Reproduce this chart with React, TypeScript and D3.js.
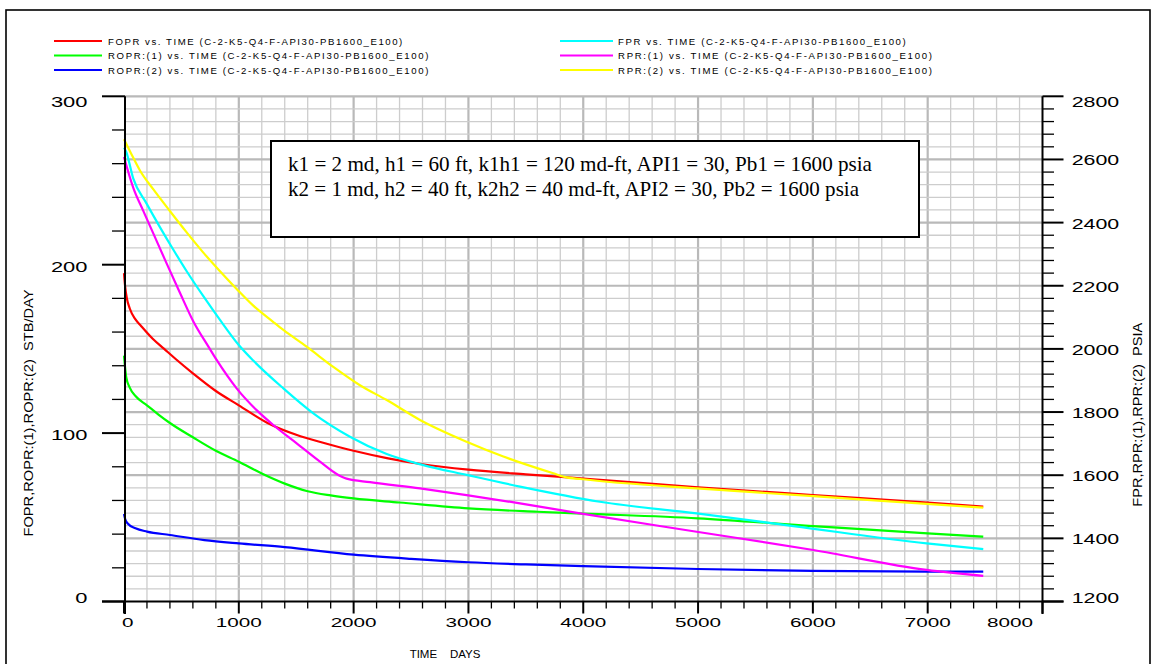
import React from "react";
import * as d3 from "d3";

// ---------- data ----------
const foprDays = [0, 10, 25, 50, 100, 150, 250, 350, 450, 600, 800, 1000, 1250, 1500, 1750, 2000, 2300, 2600, 3000, 3500, 4000, 5000, 6000, 7000, 7484];
const foprRate = [195, 187, 180, 174, 167.5, 163.5, 156, 150, 144, 135.5, 125, 116.5, 106, 99, 94, 89.5, 85, 81.5, 78.3, 75.5, 73, 67.8, 63.2, 58.7, 56.3];

const ropr1Days = [0, 8, 20, 50, 100, 200, 300, 400, 600, 800, 1000, 1200, 1400, 1600, 1800, 2000, 2400, 3000, 3600, 4000, 5000, 6000, 7000, 7484];
const ropr1Rate = [146, 140, 133, 127, 122, 116.5, 111, 106, 97.5, 89.5, 83, 76, 70, 65.5, 63, 61.2, 58.8, 55.3, 53.3, 52.2, 49.4, 44.8, 40.4, 38.5];

const ropr2Days = [0, 10, 30, 100, 200, 400, 700, 1000, 1400, 2000, 2500, 3000, 3500, 4000, 5000, 6000, 7000, 7484];
const ropr2Rate = [52, 49, 46.5, 43.5, 41.5, 39.5, 36.5, 34.5, 32.3, 27.8, 25.3, 23.3, 22, 21, 19.3, 18.2, 17.7, 17.7];

const fprDays = [0, 17, 81, 197, 314, 430, 546, 691, 836, 996, 1126, 1388, 1649, 1968, 2288, 2607, 2984, 3449, 4145, 4988, 5830, 6991, 7484];
const fprPsia = [2637, 2626, 2539, 2460, 2385, 2314, 2246, 2167, 2092, 2014, 1963, 1875, 1796, 1722, 1667, 1632, 1601, 1564, 1516, 1479, 1439, 1384, 1366];

const rpr1Days = [0, 81, 168, 256, 372, 488, 604, 734, 807, 981, 1155, 1300, 1504, 1707, 1852, 1939, 2143, 2578, 2984, 3449, 3972, 4988, 6004, 6991, 7484];
const rpr1Psia = [2608, 2510, 2437, 2365, 2270, 2177, 2087, 2008, 1965, 1875, 1806, 1759, 1701, 1643, 1604, 1589, 1578, 1558, 1537, 1511, 1479, 1421, 1363, 1300, 1281];

const rpr2Days = [0, 81, 139, 256, 401, 546, 691, 836, 981, 1126, 1301, 1388, 1591, 1823, 2055, 2288, 2578, 2984, 3304, 3739, 3855, 3972, 4988, 6004, 6991, 7484];
const rpr2Psia = [2664, 2605, 2565, 2505, 2436, 2369, 2305, 2246, 2190, 2137, 2085, 2060, 2007, 1943, 1885, 1838, 1775, 1706, 1659, 1606, 1593, 1588, 1558, 1534, 1509, 1497];

const leftTickValues = [0, 100, 200, 300];
const rightTickValues = [1200, 1400, 1600, 1800, 2000, 2200, 2400, 2600, 2800];
const xTickValues = [0, 1000, 2000, 3000, 4000, 5000, 6000, 7000, 8000];

const legendLeft = [
  "FOPR vs. TIME (C-2-K5-Q4-F-API30-PB1600_E100)",
  "ROPR:(1) vs. TIME (C-2-K5-Q4-F-API30-PB1600_E100)",
  "ROPR:(2) vs. TIME (C-2-K5-Q4-F-API30-PB1600_E100)",
];
const legendRight = [
  "FPR vs. TIME (C-2-K5-Q4-F-API30-PB1600_E100)",
  "RPR:(1) vs. TIME (C-2-K5-Q4-F-API30-PB1600_E100)",
  "RPR:(2) vs. TIME (C-2-K5-Q4-F-API30-PB1600_E100)",
];
const boxLines = [
  "k1 = 2 md, h1 = 60 ft, k1h1 = 120 md-ft, API1 = 30, Pb1 = 1600 psia",
  "k2 = 1 md, h2 = 40 ft, k2h2 = 40 md-ft, API2 = 30, Pb2 = 1600 psia",
];
const boxLineWidths = [584, 571];
const leftAxisTitle = "FOPR,ROPR:(1),ROPR:(2)  STB/DAY";
const rightAxisTitle = "FPR,RPR:(1),RPR:(2)  PSIA";
const xAxisTitle = "TIME    DAYS";

// ---------- layout ----------
const W = 1156;
const H = 664;
const X0 = 124;
const X1 = 1042.5;
const YB = 601.5;
const YT = 96.3;
const AXL = 125;
const AXR = 1042.5;

const x = d3.scaleLinear().domain([0, 8000]).range([X0, X1]);
const yL = d3.scaleLinear().domain([0, 300]).range([YB, YT]);
const yR = d3.scaleLinear().domain([1200, 2800]).range([YB, YT]);

const SANS = "'Liberation Sans', Arial, sans-serif";
const SERIF = "'Liberation Serif', 'Times New Roman', serif";

function mk(days: number[], vals: number[]) {
  return days.map((d, i) => [d, vals[i]] as [number, number]);
}

const series = [
  { pts: mk(foprDays, foprRate), y: yL, color: "#ff0000" },
  { pts: mk(ropr1Days, ropr1Rate), y: yL, color: "#00ff00" },
  { pts: mk(ropr2Days, ropr2Rate), y: yL, color: "#0000ff" },
  { pts: mk(fprDays, fprPsia), y: yR, color: "#00ffff" },
  { pts: mk(rpr1Days, rpr1Psia), y: yR, color: "#ff00ff" },
  { pts: mk(rpr2Days, rpr2Psia), y: yR, color: "#ffff00" },
];
const legendColorsLeft = ["#ff0000", "#00ff00", "#0000ff"];
const legendColorsRight = ["#00ffff", "#ff00ff", "#ffff00"];

export default function App() {
  const vGrid = d3.range(200, 8000, 200);
  const hGrid = d3.range(1240, 2801, 40);
  const leftMinor = d3.range(0, 301, 20);
  const rightMinor = d3.range(1200, 2801, 40);
  const xMinor = d3.range(0, 8001, 200);

  const clampY = (c: number) => Math.max(102, Math.min(597.6, c));
  const pre = { whiteSpace: "pre" as const };

  return (
    <svg width={W} height={H} style={{ position: "absolute", left: 0, top: 0, background: "#fff" }}>
      <rect x={0} y={0} width={W} height={H} fill="#fff" />
      <rect x={6} y={10} width={1144} height={700} fill="none" stroke="#000" strokeWidth={1.6} />

      {/* grid */}
      {vGrid.map((t) => (
        <line
          key={"vg" + t}
          x1={x(t)}
          x2={x(t)}
          y1={YT}
          y2={YB}
          stroke={t % 1000 === 0 ? "#b9b9b9" : "#cdcdcd"}
          strokeWidth={t % 1000 === 0 ? 2.2 : 1.3}
        />
      ))}
      {hGrid.map((p) => (
        <line
          key={"hg" + p}
          x1={AXL}
          x2={AXR}
          y1={yR(p)}
          y2={yR(p)}
          stroke={p % 200 === 0 ? "#b9b9b9" : "#cdcdcd"}
          strokeWidth={p % 200 === 0 ? 2.2 : 1.3}
        />
      ))}

      {/* text box */}
      <rect x={271} y={141} width={648} height={96} fill="#fff" stroke="#000" strokeWidth={2} />
      {boxLines.map((s, i) => (
        <text
          key={"bl" + i}
          x={288}
          y={171 + i * 25}
          fontFamily={SERIF}
          fontSize={21}
          textLength={boxLineWidths[i]}
          lengthAdjust="spacingAndGlyphs"
          fill="#000"
        >
          {s}
        </text>
      ))}

      {/* curves */}
      <g>
        {series.map((s, i) => {
          const line = d3
            .line<[number, number]>()
            .x((d) => x(d[0]))
            .y((d) => s.y(d[1]))
            .curve(d3.curveMonotoneX);
          return <path key={"s" + i} d={line(s.pts) || ""} fill="none" stroke={s.color} strokeWidth={2.2} />;
        })}
      </g>

      {/* axis lines */}
      <line x1={AXL} x2={AXL} y1={YT} y2={614} stroke="#000" strokeWidth={2} />
      <line x1={AXR} x2={AXR} y1={YT} y2={614} stroke="#000" strokeWidth={2} />
      <line x1={102} x2={1063.5} y1={YB} y2={YB} stroke="#000" strokeWidth={2} />

      {/* left ticks */}
      {leftMinor.map((v) => (
        <line
          key={"lt" + v}
          x1={v % 100 === 0 ? 102 : 112}
          x2={AXL}
          y1={yL(v)}
          y2={yL(v)}
          stroke="#000"
          strokeWidth={v % 100 === 0 ? 2 : 1.3}
        />
      ))}
      {leftTickValues.map((v) => (
        <text
          key={"ll" + v}
          x={87.5}
          y={clampY(yL(v) + 2) + 5}
          textAnchor="end"
          fontFamily={SANS}
          fontSize={14}
          textLength={String(v).length * 12.2}
          lengthAdjust="spacingAndGlyphs"
          fill="#000"
        >
          {v}
        </text>
      ))}

      {/* right ticks */}
      {rightMinor.map((p) => (
        <line
          key={"rt" + p}
          x1={AXR}
          x2={p % 200 === 0 ? 1063.5 : 1054}
          y1={yR(p)}
          y2={yR(p)}
          stroke="#000"
          strokeWidth={p % 200 === 0 ? 2 : 1.3}
        />
      ))}
      {rightTickValues.map((p) => (
        <text
          key={"rl" + p}
          x={1071.7}
          y={clampY(yR(p) + 1) + 5}
          fontFamily={SANS}
          fontSize={14}
          textLength={47.6}
          lengthAdjust="spacingAndGlyphs"
          fill="#000"
        >
          {p}
        </text>
      ))}

      {/* bottom ticks */}
      {xMinor.map((t) => (
        <line
          key={"xt" + t}
          x1={x(t)}
          x2={x(t)}
          y1={YB}
          y2={t % 1000 === 0 ? 613.5 : 608.5}
          stroke="#000"
          strokeWidth={t % 1000 === 0 ? 2 : 1.3}
        />
      ))}
      {xTickValues.map((t) => {
        const w = String(t).length * 11.5;
        let c = x(t);
        c = Math.max(122 + w / 2, Math.min(1033 - w / 2, c));
        return (
          <text
            key={"xl" + t}
            x={c}
            y={626.7}
            textAnchor="middle"
            fontFamily={SANS}
            fontSize={13.5}
            textLength={w}
            lengthAdjust="spacingAndGlyphs"
            fill="#000"
          >
            {t}
          </text>
        );
      })}

      {/* axis titles */}
      <text
        transform={`translate(33,413) rotate(-90)`}
        textAnchor="middle"
        fontFamily={SANS}
        fontSize={12.5}
        textLength={247}
        lengthAdjust="spacingAndGlyphs"
        fill="#000"
        style={pre}
      >
        {leftAxisTitle}
      </text>
      <text
        transform={`translate(1141.5,414.7) rotate(-90)`}
        textAnchor="middle"
        fontFamily={SANS}
        fontSize={12.5}
        textLength={184}
        lengthAdjust="spacingAndGlyphs"
        fill="#000"
        style={pre}
      >
        {rightAxisTitle}
      </text>
      <text x={445} y={657.5} textAnchor="middle" fontFamily={SANS} fontSize={11.5} fill="#000" style={pre}>
        {xAxisTitle}
      </text>

      {/* legend */}
      {legendLeft.map((s, i) => (
        <g key={"lg" + i}>
          <line x1={54} x2={102} y1={41 + i * 14.5} y2={41 + i * 14.5} stroke={legendColorsLeft[i]} strokeWidth={2} />
          <text
            x={108}
            y={44.5 + i * 14.5}
            fontFamily={SANS}
            fontSize={9.6}
            textLength={s.length * 6.54}
            lengthAdjust="spacing"
            fill="#000"
          >
            {s}
          </text>
        </g>
      ))}
      {legendRight.map((s, i) => (
        <g key={"lr" + i}>
          <line x1={560} x2={613} y1={41 + i * 14.5} y2={41 + i * 14.5} stroke={legendColorsRight[i]} strokeWidth={2} />
          <text
            x={618}
            y={44.5 + i * 14.5}
            fontFamily={SANS}
            fontSize={9.6}
            textLength={s.length * 6.54}
            lengthAdjust="spacing"
            fill="#000"
          >
            {s}
          </text>
        </g>
      ))}
    </svg>
  );
}
